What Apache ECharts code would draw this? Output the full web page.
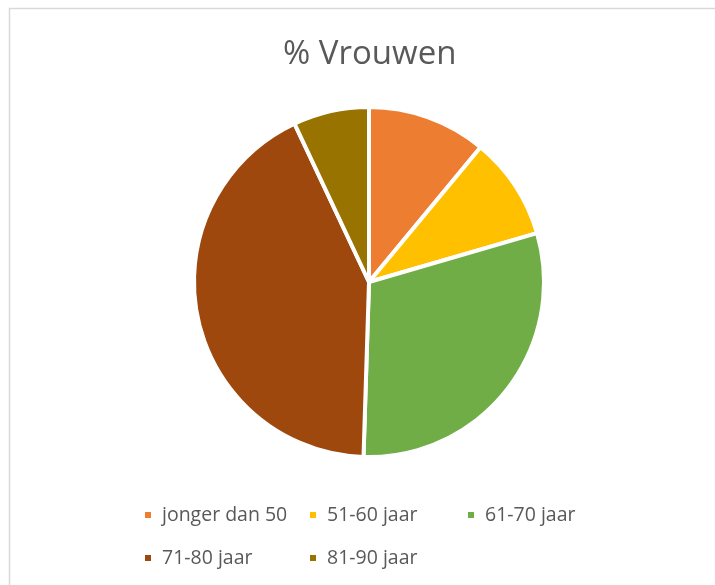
<!DOCTYPE html>
<html>
<head>
<meta charset="utf-8">
<title>% Vrouwen</title>
<script src="https://cdn.jsdelivr.net/npm/echarts@6/dist/echarts.min.js"></script>
<style>
  html, body { margin: 0; padding: 0; background: #fff; }
  #main { width: 715px; height: 585px; }
</style>
</head>
<body>
<div id="main"></div>
<script>
// categories and values (percentage of women per age group)
var categories = ['jonger dan 50', '51-60 jaar', '61-70 jaar', '71-80 jaar', '81-90 jaar'];
var values = [11, 9.5, 30, 42.5, 7];
var colors = ['#ED7D31', '#FFC000', '#70AD47', '#9E480E', '#997300'];

// legend slots (left, top) to mimic the column layout of the original
var legendPos = [[138, 497], [303, 497], [461, 497], [138, 540], [303, 540]];

var chart = echarts.init(document.getElementById('main'));

var legends = categories.map(function (name, i) {
  return {
    data: [name],
    left: legendPos[i][0],
    top: legendPos[i][1],
    icon: 'rect',
    itemWidth: 8,
    itemHeight: 8,
    selectedMode: false,
    textStyle: {
      fontFamily: 'Open Sans',
      fontSize: 19.5,
      color: '#595959',
      lineHeight: 26,
      padding: [0, 0, 0, 5]
    }
  };
});

chart.setOption({
  animation: false,
  color: colors,
  title: {
    text: '% Vrouwen',
    left: 278,
    top: 33,
    textStyle: {
      fontFamily: 'Open Sans',
      fontSize: 33,
      fontWeight: 'normal',
      color: '#595959'
    }
  },
  legend: legends,
  graphic: [{
    type: 'rect',
    shape: { x: 9.5, y: 8.5, width: 720, height: 600 },
    style: { fill: 'none', stroke: '#d9d9d9', lineWidth: 1.5 },
    silent: true
  }],
  series: [{
    type: 'pie',
    center: [369, 282],
    radius: 175,
    startAngle: 90,
    clockwise: true,
    label: { show: false },
    labelLine: { show: false },
    emphasis: { disabled: true },
    itemStyle: { borderColor: '#fff', borderWidth: 4 },
    data: categories.map(function (c, i) {
      return { name: c, value: values[i] };
    })
  }]
});
</script>
</body>
</html>
